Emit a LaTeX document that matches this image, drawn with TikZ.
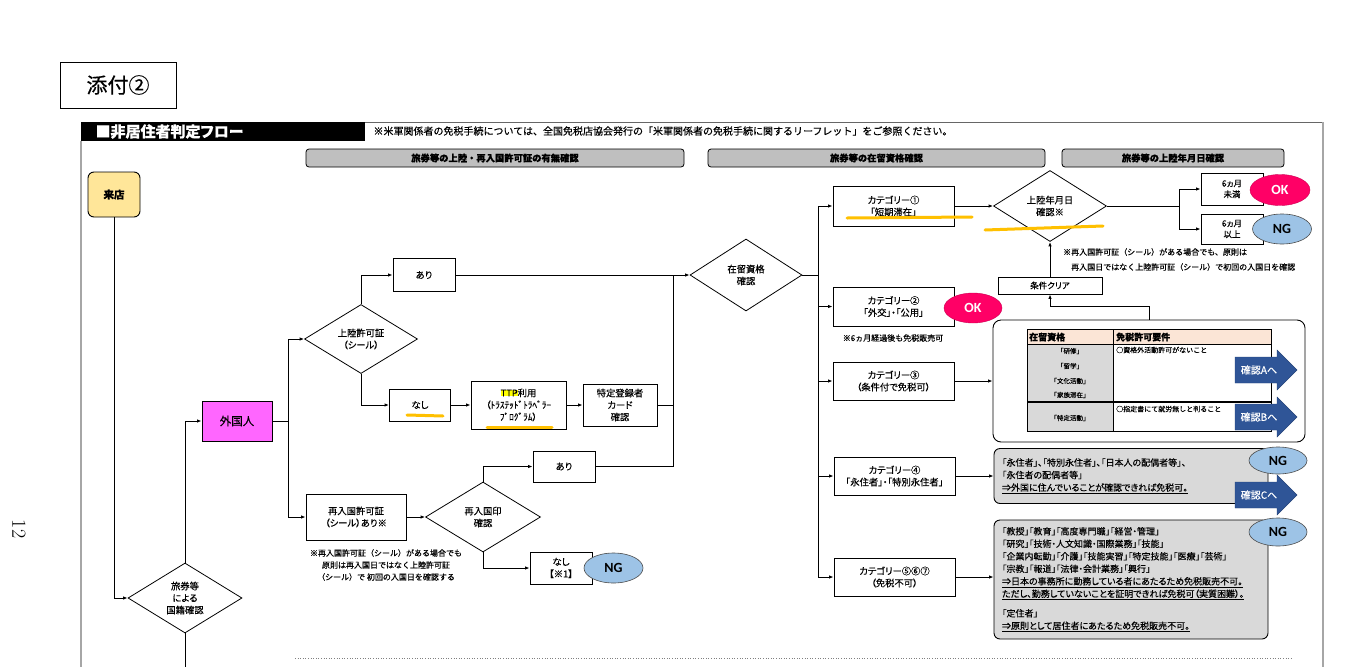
\documentclass[tikz,border=0pt]{standalone}
\usepackage{fontspec}
\usetikzlibrary{shapes.geometric,arrows.meta}
\newfontfamily\jp[RawFeature=+palt,RawFeature={embolden=0.4}]{Noto Sans CJK JP}
\newfontfamily\jpm[RawFeature={embolden=0.4}]{Noto Sans CJK JP}
\newfontfamily\okng{Carlito}
\definecolor{raiten}{HTML}{FFE699}
\definecolor{gaikoku}{HTML}{FF66FF}
\definecolor{okpink}{HTML}{FF0066}
\definecolor{ngblue}{HTML}{9DC3E6}
\definecolor{hdrgray}{HTML}{BFBFBF}
\definecolor{boxgray}{HTML}{D9D9D9}
\definecolor{peach}{HTML}{FBE5D6}
\definecolor{navy}{HTML}{2F5597}
\definecolor{hlorange}{HTML}{FFC000}
\definecolor{ttpyellow}{HTML}{FFFF00}

\begin{document}
\begin{tikzpicture}[x=1pt,y=-1pt,
  >={Latex[length=4.5pt,width=3.5pt]},
  font=\jp\fontsize{9.3}{12}\selectfont,
  box/.style={draw,line width=.9pt,align=center,inner sep=1pt},
  dia/.style={draw,diamond,line width=.8pt,align=center,inner sep=0pt},
  hdr/.style={draw,line width=.8pt,rounded corners=3pt,fill=hdrgray,minimum height=18pt,font=\jpm\bfseries\fontsize{9.3}{10}\selectfont},
  flow/.style={->,line width=1pt},
  line/.style={line width=1pt},
  ok/.style={ellipse,fill=okpink,draw=okpink!80!black,text=white,font=\okng\bfseries\fontsize{14}{14}\selectfont,minimum width=60pt,minimum height=31pt,inner sep=0pt},
  ng/.style={ellipse,fill=ngblue,draw=black!70,line width=.6pt,font=\okng\bfseries\fontsize{14}{14}\selectfont,minimum width=59pt,minimum height=30pt,inner sep=0pt},
  note/.style={font=\jpm\fontsize{8}{12}\selectfont,inner sep=0pt},
  gbox/.style={draw,line width=.9pt,rounded corners=6pt,fill=boxgray,align=left,inner xsep=8pt,text width=258pt,font=\jp\fontsize{9}{12.5}\selectfont},
  hl/.style={draw=hlorange,line width=3pt,line cap=round},
  cell/.style={font=\jpm\fontsize{6.5}{8}\selectfont,inner sep=0pt},
]
\useasboundingbox (0,0) rectangle (1366,667);

% frame and titles
\fill (81,122) rectangle (365,141);
\draw[black!60,line width=.6pt] (365,122) -- (1323,122);
\draw[black!35,line width=1.6pt] (81,141) -- (81,667);
\draw[black!35,line width=1.6pt] (1323,122) -- (1323,667);
\draw[black!50,dotted,line width=.6pt] (295,658) -- (1292,658);
\node[anchor=west,text=white,font=\jp\bfseries\fontsize{15}{15}\selectfont] (title) at (92,131.5) {■非居住者判定フロー};
\node[anchor=west,font=\jpm\fontsize{10}{10}\selectfont] (memo) at (370,131) {※米軍関係者の免税手続については、全国免税店協会発行の「米軍関係者の免税手続に関するリーフレット」をご参照ください。};
\node[draw,line width=.8pt,minimum width=116pt,minimum height=46pt,font=\jp\fontsize{21}{21}\selectfont] (tenpu) at (118,85) {添付②};
\node[rotate=-90,font=\fontsize{20}{20}\selectfont] (page) at (19,529) {12};

\node[hdr,minimum width=378pt] (h1) at (495,158) {旅券等の上陸・再入国許可証の有無確認};
\node[hdr,minimum width=337pt] (h2) at (876.5,158) {旅券等の在留資格確認};
\node[hdr,minimum width=222pt] (h3) at (1173,158) {旅券等の上陸年月日確認};

% left part
\node[box,fill=raiten,rounded corners=6pt,minimum width=52pt,minimum height=45pt,font=\jp\bfseries\fontsize{10.5}{10.5}\selectfont] (raiten) at (114,194.5) {来店};
\node[dia,minimum width=114pt,minimum height=70pt] (koku) at (185,598) {旅券等\\による\\国籍確認};
\node[box,fill=gaikoku,minimum width=70pt,minimum height=40pt,font=\jp\fontsize{11.5}{11.5}\selectfont] (gai) at (237,421) {外国人};
\node[dia,minimum width=113pt,minimum height=69pt] (jou) at (361,339) {上陸許可証\\（シール）};
\node[box,minimum width=62pt,minimum height=33pt] (ari1) at (424,275) {あり};
\node[box,minimum width=61pt,minimum height=32pt] (nashi1) at (420,405) {なし};
\node[box,minimum width=95pt,minimum height=48pt] (ttp) at (518.5,405) {{\fboxsep=0pt\colorbox{ttpyellow}{TTP}}利用\\（ﾄﾗｽﾃｯﾄﾞﾄﾗﾍﾞﾗｰ\\ﾌﾟﾛｸﾞﾗﾑ）};
\node[box,minimum width=74pt,minimum height=42pt] (toku) at (620,405) {特定登録者\\カード\\確認};
\node[box,minimum width=100pt,minimum height=46pt] (sai) at (356,517) {再入国許可証\\（シール）あり※};
\node[dia,minimum width=115pt,minimum height=70pt] (sain) at (483,517) {再入国印\\確認};
\node[box,minimum width=62pt,minimum height=31pt] (ari2) at (564,466.5) {あり};
\node[box,minimum width=62pt,minimum height=32pt] (nashi2) at (561,568) {なし\\【※1】};
\node[note,align=center] (sainote) at (386,565) {※再入国許可証（シール）がある場合でも\\原則は再入国日ではなく上陸許可証\\（シール）で 初回の入国日を確認する};
\coordinate (bot) at (185,667);
\coordinate (join) at (673,275);

% middle part
\node[dia,minimum width=112pt,minimum height=72pt] (zai) at (746,275) {在留資格\\確認};
\node[box,minimum width=121pt,minimum height=40pt] (c1) at (893.5,206) {カテゴリー①\\「短期滞在」};
\node[box,minimum width=121pt,minimum height=39pt] (c2) at (893.5,306.5) {カテゴリー②\\「外交」・「公用」};
\node[note] (c2note) at (893,338) {※6ヵ月経過後も免税販売可};
\node[box,minimum width=121pt,minimum height=38pt] (c3) at (893.5,381) {カテゴリー③\\（条件付で免税可）};
\node[box,minimum width=121pt,minimum height=38pt] (c4) at (894.5,476) {カテゴリー④\\「永住者」・「特別永住者」};
\node[box,minimum width=121pt,minimum height=38pt] (c5) at (894.5,577) {カテゴリー⑤⑥⑦\\（免税不可）};

% right part
\node[dia,minimum width=113pt,minimum height=71pt] (jy) at (1050,206) {上陸年月日\\確認※};
\node[box,minimum width=62pt,minimum height=32pt,font=\jp\fontsize{8.5}{11}\selectfont] (m1) at (1232,189) {6ヵ月\\未満};
\node[box,minimum width=62pt,minimum height=30pt,font=\jp\fontsize{8.5}{11}\selectfont] (m2) at (1232,229) {6ヵ月\\以上};
\node[note,anchor=west] (jynote1) at (1063,252) {※再入国許可証（シール）がある場合でも、原則は};
\node[note,anchor=west] (jynote2) at (1071,267) {再入国日ではなく上陸許可証（シール）で初回の入国日を確認};
\node[box,minimum width=104pt,minimum height=17pt,inner sep=0pt,font=\jp\fontsize{8.5}{10}\selectfont] (clr) at (1050,285.5) {条件クリア};
\node[draw,line width=.9pt,rounded corners=8pt,minimum width=312pt,minimum height=122pt] (panel) at (1149,381) {};

% table in the panel
\fill[peach] (1027,329) rectangle (1271,344);
\fill[boxgray] (1027,344) rectangle (1113,431);
\draw[line width=.9pt] (1027,329) rectangle (1271,431);
\draw[line width=.9pt] (1113,329) -- (1113,431) (1027,344) -- (1271,344);
\draw[line width=1.3pt] (1027,402) -- (1271,402);
\node[cell,anchor=west,font=\jpm\bfseries\fontsize{9}{9}\selectfont] (th1) at (1029,337) {在留資格};
\node[cell,anchor=west,font=\jpm\bfseries\fontsize{9}{9}\selectfont] (th2) at (1116,337) {免税許可要件};
\node[cell] (r1) at (1070,351) {「研修」};
\node[cell] (r2) at (1070,366) {「留学」};
\node[cell] (r3) at (1070,381) {「文化活動」};
\node[cell] (r4) at (1070,395) {「家族滞在」};
\node[cell,anchor=west,font=\jpm\fontsize{7}{8}\selectfont] (q1) at (1116,350) {○資格外活動許可がないこと};
\node[cell] (r5) at (1070,418) {「特定活動」};
\node[cell,anchor=west,font=\jpm\fontsize{7}{8}\selectfont] (q2) at (1116,409) {○指定書にて就労無しと判ること};

% grey boxes
\node[gbox,minimum height=55pt] (g4) at (1131,476) {「永住者」、「特別永住者」、「日本人の配偶者等」、\\「永住者の配偶者等」\\\underline{⇒外国に住んでいることが確認できれば免税可。}};
\node[gbox,minimum height=119pt] (g5) at (1131,579.5) {「教授」「教育」「高度専門職」「経営・管理」\\「研究」「技術・人文知識・国際業務」「技能」\\「企業内転勤」「介護」「技能実習」「特定技能」「医療」「芸術」\\「宗教」「報道」「法律・会計業務」「興行」\\\underline{⇒日本の事務所に勤務している者にあたるため免税販売不可。}\\\underline{ただし、勤務していないことを証明できれば免税可（実質困難）。}\\[7pt]「定住者」\\\underline{⇒原則として居住者にあたるため免税販売不可。}};

% connectors
\draw[flow] (raiten) |- (koku);
\draw[flow] (koku) |- (gai);
\draw[line] (koku) -- (bot);
\draw[flow] (gai.east) -- ++(16,0) |- (jou);
\draw[flow] (gai.east) -- ++(16,0) |- (sai);
\draw[flow] (jou) |- (ari1);
\draw[flow] (jou) |- (nashi1);
\draw[flow] (nashi1) -- (ttp);
\draw[flow] (ttp) -- (toku);
\draw[flow] (ari1) -- (zai);
\draw[line] (toku) -| (join);
\draw[line] (ari2) -| (join);
\draw[flow] (sai) -- (sain);
\draw[flow] (sain) |- (ari2);
\draw[flow] (sain) |- (nashi2);
\foreach \c in {c1,c2,c3,c4,c5}
  \draw[flow] (zai.east) -- ++(16,0) |- (\c);
\draw[flow] (c1) -- (jy);
\draw[flow] (jy.east) -- ++(73,0) |- (m1);
\draw[flow] (jy.east) -- ++(73,0) |- (m2);
\draw[flow] (clr) -- (jy);
\draw[flow] (panel.north) -- ++(0,-13) -| (clr);
\draw[flow] (c3) -- (panel);
\draw[flow] (c4) -- (g4);
\draw[flow] (c5.east) -- (c5.east -| g5.west);

% marker lines
\draw[hl] (407,415) -- (443,416);
\draw[hl] (487,427) -- (552,427);
\draw[hl] (847,218) -- (972,217);
\draw[hl] (985,230) -- (1103,226);

% OK / NG
\node[ok] (ok1) at (1280,190) {OK};
\node[ng] (ng1) at (1282,229) {NG};
\node[ok,minimum width=58pt,minimum height=30pt] (ok2) at (973,308) {OK};
\node[ng] (ng2) at (613.5,568) {NG};
\node[ng,minimum width=58pt,minimum height=27pt] (ng3) at (1278,460.5) {NG};
\node[ng,minimum width=58pt,minimum height=28pt] (ng4) at (1278,532) {NG};

% block arrows
\foreach \yc/\lab in {370/A,417/B,495/C} {
  \filldraw[fill=navy,draw=navy!80!black] (1235,\yc-13) -- (1277,\yc-13) -- (1277,\yc-20) -- (1297,\yc) -- (1277,\yc+20) -- (1277,\yc+13) -- (1235,\yc+13) -- cycle;
  \node[text=white,font=\jp\fontsize{10}{10}\selectfont] (go\lab) at (1259,\yc) {確認\lab へ};
}
\end{tikzpicture}
\end{document}
